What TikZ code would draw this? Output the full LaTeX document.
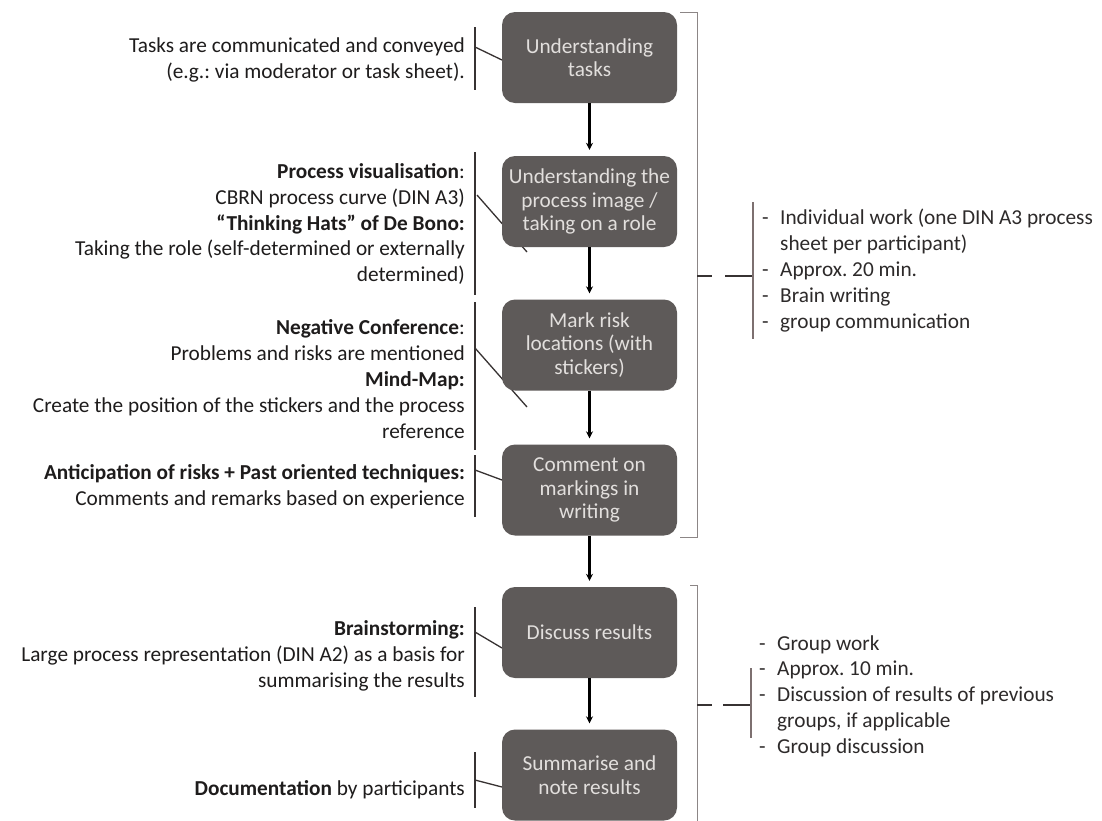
\documentclass[tikz,border=0pt]{standalone}
\usepackage{fontspec}
\setmainfont{Carlito}
\usetikzlibrary{arrows.meta}
\frenchspacing
\definecolor{boxfill}{RGB}{94,90,89}
\definecolor{boxtext}{RGB}{226,223,221}
\definecolor{notetext}{RGB}{30,28,28}
\definecolor{barcol}{RGB}{55,50,50}
\definecolor{bracecol}{RGB}{140,134,134}
\definecolor{itembarcol}{RGB}{125,112,112}
\definecolor{itemtext}{RGB}{45,42,42}
\begin{document}
\begin{tikzpicture}[x=1pt,y=-1pt,
  stepbox/.style={fill=boxfill, rounded corners=13pt, minimum width=175pt,
    minimum height=91pt, text=boxtext, align=center, inner sep=0pt,
    font=\fontsize{21.3}{23.5}\selectfont},
  note/.style={anchor=east, align=right, text=notetext, inner sep=0pt,
    font=\fontsize{21.3}{25.8}\selectfont},
  items/.style={anchor=west, align=left, text=itemtext, inner sep=0pt,
    font=\fontsize{21.3}{25.8}\selectfont},
  flow/.style={line width=2.4pt, -{Stealth[length=7pt,width=7pt]}, shorten >=6pt},
  notebar/.style={line width=1.6pt, draw=barcol},
  link/.style={line width=1.3pt, draw=barcol},
  brace/.style={line width=1pt, draw=bracecol},
  itembar/.style={line width=2.2pt, draw=itembarcol},
  tick/.style={line width=1.4pt, draw=barcol},
]
\path[use as bounding box, fill=white] (0,0) rectangle (1102,820);

% anchor points of the note bars and their links into the steps
\coordinate (l1) at (475,47);   \coordinate (e1) at (502,60);
\coordinate (l2) at (477,195);  \coordinate (e2) at (527,252);
\coordinate (l3) at (475,348);  \coordinate (e3) at (527,407);
\coordinate (l4) at (475,470);  \coordinate (e4) at (502,480);
\coordinate (l5) at (475,632);  \coordinate (e5) at (502,648);
\coordinate (l6) at (475,780);  \coordinate (e6) at (502,787);

% links run behind the step boxes
\draw[link] (l1) -- (e1);
\draw[link] (l2) -- (e2);
\draw[link] (l3) -- (e3);
\draw[link] (l4) -- (e4);
\draw[link] (l5) -- (e5);
\draw[link] (l6) -- (e6);

% process steps
\node[stepbox] (s1) at (589.5,57.5) {Understanding\\tasks};
\node[stepbox] (s2) at (589.5,201.5) {Understanding the\\process image /\\taking on a role};
\node[stepbox] (s3) at (589.5,345) {Mark risk\\locations (with\\stickers)};
\node[stepbox] (s4) at (589.5,490) {Comment on\\markings in\\writing};
\node[stepbox] (s5) at (589.5,632.5) {Discuss results};
\node[stepbox] (s6) at (589.5,775) {Summarise and\\note results};

\draw[flow] (s1.south) -- (s2.north);
\draw[flow] (s2.south) -- (s3.north);
\draw[flow] (s3.south) -- (s4.north);
\draw[flow] (s4.south) -- (s5.north);
\draw[flow] (s5.south) -- (s6.north);

% methods on the left
\node[note] (n1) at (465,60) {Tasks are communicated and conveyed\\(e.g.: via moderator or task sheet).};
\node[note] (n2) at (465,224) {\textbf{Process visualisation}:\\CBRN process curve (DIN A3)\\\textbf{``Thinking Hats'' of De Bono:}\\Taking the role (self-determined or externally\\determined)};
\node[note] (n3) at (465,379) {\textbf{Negative Conference}:\\Problems and risks are mentioned\\\textbf{Mind-Map:}\\Create the position of the stickers and the process\\reference};
\node[note] (n4) at (465,486.5) {\textbf{Anticipation of risks + Past oriented techniques:}\\Comments and remarks based on experience};
\node[note] (n5) at (465,656) {\textbf{Brainstorming:}\\Large process representation (DIN A2) as a basis for\\summarising the results};
\node[note] (n6) at (465,790) {\textbf{Documentation} by participants};

% bars beside the notes
\draw[notebar] (475,27) -- (475,90);
\draw[notebar] (475,152) -- (475,295);
\draw[notebar] (475,302) -- (475,450);
\draw[notebar] (475,455) -- (475,517);
\draw[notebar] (475,607) -- (475,697);
\draw[notebar] (475,752) -- (475,808);

% phase brackets on the right
\draw[brace] (680,12) -- (697,12) -- (697,537) -- (680,537);
\draw[brace] (690,585) -- (697,585) -- (697,830);
\coordinate (k1) at (697,276);
\coordinate (k2) at (697,705);
\draw[tick] (k1) -- ++(15,0);
\draw[tick] ([xshift=28pt]k1) -- (753,276);
\draw[tick] (k2) -- ++(15,0);
\draw[tick] ([xshift=26pt]k2) -- (751,705);
\draw[itembar] (753,202) -- (753,339);
\draw[itembar] (751,668) -- (751,738);

% phase characteristics
\node[items] (p1) at (762,270.5) {\makebox[18pt][l]{-}Individual work (one DIN A3 process\\\hspace*{18pt}sheet per participant)\\\makebox[18pt][l]{-}Approx. 20 min.\\\makebox[18pt][l]{-}Brain writing\\\makebox[18pt][l]{-}group communication};
\node[items] (p2) at (759,696) {\makebox[18pt][l]{-}Group work\\\makebox[18pt][l]{-}Approx. 10 min.\\\makebox[18pt][l]{-}Discussion of results of previous\\\hspace*{18pt}groups, if applicable\\\makebox[18pt][l]{-}Group discussion};
\end{tikzpicture}
\end{document}
